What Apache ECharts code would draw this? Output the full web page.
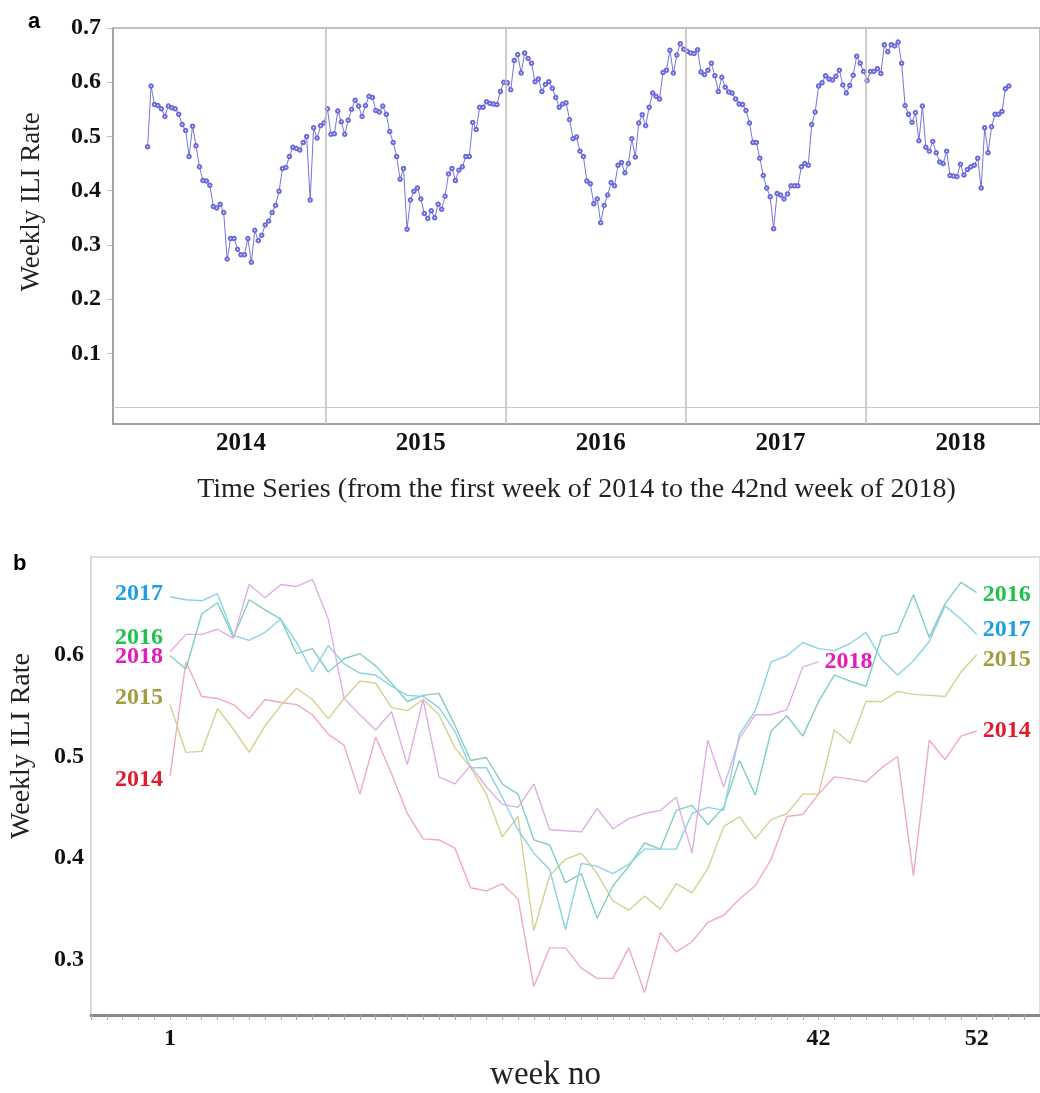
<!DOCTYPE html>
<html>
<head>
<meta charset="utf-8">
<script src="https://cdn.jsdelivr.net/npm/echarts@6/dist/echarts.min.js"></script>
<style>
  html, body { margin: 0; padding: 0; background: #fff; }
  #chart { width: 1040px; height: 1093px; }
</style>
</head>
<body>
<div id="chart"></div>
<script>
// weekly ILI rate per year (week 1 .. 52, 2018 only up to week 42)
const years = ['2014', '2015', '2016', '2017', '2018'];
const ili2014 = [0.481,0.593,0.559,0.557,0.551,0.537,0.556,0.553,0.551,0.541,0.522,0.511,0.463,0.519,0.483,0.444,0.419,0.418,0.410,0.371,0.368,0.375,0.360,0.274,0.312,0.312,0.292,0.282,0.282,0.312,0.268,0.327,0.308,0.318,0.337,0.344,0.360,0.373,0.399,0.441,0.443,0.463,0.480,0.478,0.475,0.489,0.500,0.383,0.516,0.497,0.520,0.525];
const ili2015 = [0.551,0.504,0.505,0.547,0.527,0.504,0.530,0.550,0.567,0.556,0.537,0.557,0.574,0.572,0.548,0.545,0.556,0.541,0.509,0.489,0.463,0.421,0.441,0.329,0.383,0.399,0.405,0.385,0.358,0.349,0.363,0.350,0.375,0.366,0.390,0.431,0.441,0.419,0.438,0.444,0.463,0.463,0.526,0.513,0.554,0.554,0.564,0.561,0.560,0.559,0.583,0.600];
const ili2016 = [0.599,0.586,0.640,0.651,0.617,0.654,0.644,0.635,0.601,0.606,0.583,0.596,0.601,0.589,0.572,0.554,0.560,0.562,0.531,0.496,0.499,0.473,0.463,0.418,0.413,0.376,0.385,0.341,0.373,0.392,0.415,0.409,0.447,0.452,0.433,0.450,0.496,0.462,0.525,0.540,0.520,0.554,0.580,0.574,0.569,0.618,0.622,0.659,0.617,0.650,0.671,0.661];
const ili2017 = [0.657,0.654,0.653,0.660,0.619,0.614,0.622,0.635,0.612,0.583,0.609,0.591,0.582,0.580,0.569,0.560,0.559,0.548,0.525,0.489,0.489,0.460,0.428,0.405,0.389,0.330,0.395,0.392,0.385,0.394,0.409,0.409,0.409,0.444,0.450,0.447,0.522,0.545,0.593,0.599,0.612,0.606,0.604,0.611,0.622,0.595,0.580,0.594,0.613,0.648,0.635,0.620];
const ili2018 = [0.603,0.620,0.620,0.625,0.616,0.669,0.656,0.669,0.667,0.674,0.635,0.557,0.541,0.526,0.544,0.492,0.556,0.480,0.473,0.491,0.470,0.453,0.450,0.473,0.428,0.427,0.426,0.449,0.429,0.439,0.444,0.447,0.460,0.405,0.516,0.470,0.518,0.541,0.541,0.546,0.588,0.593];

// tick labels
const rateTicksA = [0.1, 0.2, 0.3, 0.4, 0.5, 0.6, 0.7];
const rateTicksB = [0.3, 0.4, 0.5, 0.6];
const weekTicksB = [1, 42, 52];

const byYear = [ili2014, ili2015, ili2016, ili2017, ili2018];
const weeksPerYear = 52;

// panel a: all weeks in one row, x = running week index
const allWeeks = [];
byYear.forEach((arr, y) => arr.forEach((v, k) => allWeeks.push([y * weeksPerYear + k, v])));
const yearBounds = years.slice(1).map((_, y) => (y + 1) * weeksPerYear - 0.5);
const yearLabelAt = years.map((_, y) => y * weeksPerYear + 27);

// panel b colours and label nudges
const lineColors = ['#f0aabb', '#d4d18f', '#7fcfbb', '#8ad3e6', '#e0aee6'];
const textColors = ['#e21b2c', '#a39c3c', '#1fc24b', '#1e9fe4', '#e41bbd'];
const leftOffset = [[0, 4], [0, -7], [0, -18], [0, -3], [0, 5]];
const rightOffset = [[0, 0], [0, 5], [0, 2], [0, -5], [0, 0]];

const serif = 'Liberation Serif';
const chart = echarts.init(document.getElementById('chart'));

const seriesB = byYear.map((arr, y) => {
  const pts = arr.map((v, k) => [k + 1, v]);
  const last = pts[pts.length - 1];
  const lbl = { show: true, color: textColors[y], fontFamily: serif, fontWeight: 'bold', fontSize: 24, formatter: years[y] };
  return {
    type: 'line',
    xAxisIndex: 1, yAxisIndex: 1,
    data: pts,
    showSymbol: false,
    lineStyle: { color: lineColors[y], width: 1.4 },
    markPoint: {
      silent: true,
      symbol: 'circle', symbolSize: 0,
      data: [
        { coord: pts[0], label: Object.assign({}, lbl, { position: 'left', distance: 7, offset: leftOffset[y] }) },
        { coord: last, label: Object.assign({}, lbl, { position: 'right', distance: 6, offset: rightOffset[y] }) }
      ]
    }
  };
});

const option = {
  animation: false,
  backgroundColor: '#fff',
  title: [
    { text: 'a', left: 23, top: 6, textStyle: { fontFamily: 'Liberation Sans', fontWeight: 'bold', fontSize: 22, color: '#000' } },
    { text: 'b', left: 8, top: 548, textStyle: { fontFamily: 'Liberation Sans', fontWeight: 'bold', fontSize: 22, color: '#000' } }
  ],
  grid: [
    { left: 113, top: 28, width: 930, height: 396, show: true, borderColor: '#aaa', borderWidth: 1.5 },
    { left: 91, top: 557, width: 954, height: 463, show: true, borderColor: '#d4d4d4', borderWidth: 1.5 }
  ],
  xAxis: [
    {
      gridIndex: 0, type: 'value', min: -10, max: 258,
      name: 'Time Series (from the first week of 2014 to the 42nd week of 2018)',
      nameLocation: 'middle', nameGap: 52,
      nameTextStyle: { fontFamily: serif, fontSize: 28, color: '#222' },
      axisLine: { onZero: false, lineStyle: { color: '#999', width: 1.5 } },
      axisTick: { show: false },
      splitLine: { show: false },
      axisLabel: {
        customValues: yearLabelAt,
        formatter: v => years[yearLabelAt.indexOf(v)],
        fontFamily: serif, fontWeight: 'bold', fontSize: 25, color: '#111', margin: 7
      }
    },
    {
      gridIndex: 1, type: 'value', min: -4, max: 56, interval: 1,
      name: 'week no', nameLocation: 'middle', nameGap: 44,
      nameTextStyle: { fontFamily: serif, fontSize: 33, color: '#222', padding: [0, 40, 0, 0] },
      axisLine: { onZero: false, lineStyle: { color: '#8a8a8a', width: 3 } },
      axisTick: { show: true, length: 5, lineStyle: { color: '#aaa', width: 1 } },
      splitLine: { show: false },
      axisLabel: {
        customValues: weekTicksB,
        formatter: v => String(v),
        fontFamily: serif, fontWeight: 'bold', fontSize: 24, color: '#111', margin: 12
      }
    }
  ],
  yAxis: [
    {
      gridIndex: 0, type: 'value', min: -0.03, max: 0.7,
      name: 'Weekly ILI Rate', nameLocation: 'middle', nameGap: 68,
      nameTextStyle: { fontFamily: serif, fontSize: 27, color: '#222', padding: [0, 0, 0, 48] },
      axisLine: { show: true, onZero: false, lineStyle: { color: '#999', width: 1.5 } },
      axisTick: { show: true, customValues: rateTicksA, length: 6, lineStyle: { color: '#bbb' } },
      splitLine: { show: false },
      axisLabel: {
        customValues: rateTicksA,
        formatter: v => v.toFixed(1),
        fontFamily: serif, fontWeight: 'bold', fontSize: 24, color: '#111', margin: 12
      }
    },
    {
      gridIndex: 1, type: 'value', min: 0.246, max: 0.696,
      name: 'Weekly ILI Rate', nameLocation: 'middle', nameGap: 55,
      nameTextStyle: { fontFamily: serif, fontSize: 28, color: '#222', padding: [0, 0, 0, 80] },
      axisLine: { show: true, onZero: false, lineStyle: { color: '#d4d4d4', width: 1.5 } },
      axisTick: { show: false },
      splitLine: { show: false },
      axisLabel: {
        customValues: rateTicksB,
        formatter: v => v.toFixed(1),
        fontFamily: serif, fontWeight: 'bold', fontSize: 24, color: '#111', margin: 7
      }
    }
  ],
  series: [
    {
      type: 'line',
      xAxisIndex: 0, yAxisIndex: 0,
      data: allWeeks,
      symbol: 'emptyCircle', symbolSize: 3.5,
      itemStyle: { color: '#6a6adc', borderWidth: 1 },
      lineStyle: { color: '#7474e0', width: 1 },
      markLine: {
        silent: true, symbol: 'none',
        label: { show: false },
        lineStyle: { color: '#bdbdbd', type: 'solid', width: 1.5 },
        data: yearBounds.map(b => ({ xAxis: b })).concat([{ yAxis: 0, lineStyle: { color: '#c8c8c8', width: 1.2 } }])
      }
    }
  ].concat(seriesB)
};

chart.setOption(option);
</script>
</body>
</html>
